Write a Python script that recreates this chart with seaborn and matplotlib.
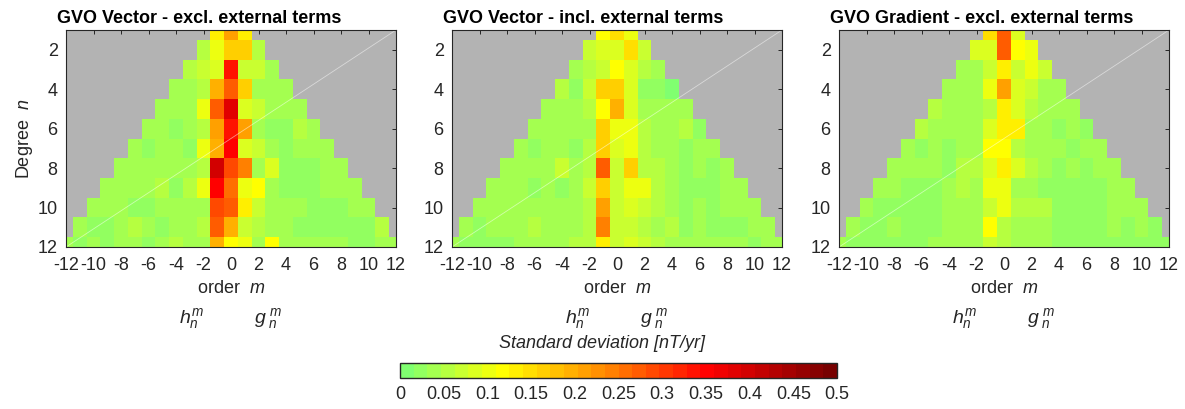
import numpy as np
import pandas as pd
import seaborn as sns
import matplotlib.pyplot as plt
from matplotlib.colors import LinearSegmentedColormap

sns.set_theme(style='white')
plt.rcParams['font.family'] = ['Liberation Sans', 'DejaVu Sans']
plt.rcParams['mathtext.fontset'] = 'custom'
plt.rcParams['mathtext.it'] = 'Liberation Sans:italic'
plt.rcParams['mathtext.rm'] = 'Liberation Sans'

degrees = list(range(1, 13))
orders = list(range(-12, 13))

# standard deviation [nT/yr], one list per degree n, orders m = -n..n
vec_excl = [
    [0.14, 0.21, 0.14],
    [0.05, 0.1, 0.165, 0.165, 0.05],
    [0.05, 0.065, 0.08, 0.34, 0.07, 0.07, 0.035],
    [0.035, 0.035, 0.05, 0.195, 0.28, 0.16, 0.04, 0.035, 0.035],
    [0.035, 0.035, 0.035, 0.095, 0.27, 0.375, 0.08, 0.065, 0.035, 0.035, 0.035],
    [0.035, 0.045, 0.03, 0.045, 0.05, 0.21, 0.33, 0.21, 0.035, 0.03, 0.02, 0.05, 0.035],
    [0.035, 0.02, 0.035, 0.035, 0.03, 0.095, 0.195, 0.35, 0.08, 0.065, 0.035, 0.03, 0.035, 0.035, 0.035],
    [0.035, 0.035, 0.035, 0.035, 0.035, 0.035, 0.05, 0.395, 0.29, 0.24, 0.04, 0.08, 0.03, 0.03, 0.03, 0.035, 0.035],
    [0.035, 0.035, 0.035, 0.035, 0.05, 0.03, 0.06, 0.1, 0.355, 0.26, 0.095, 0.115, 0.045, 0.02, 0.03, 0.03, 0.035, 0.035, 0.035],
    [0.035, 0.035, 0.035, 0.03, 0.02, 0.035, 0.035, 0.04, 0.045, 0.29, 0.27, 0.14, 0.07, 0.035, 0.035, 0.035, 0.03, 0.02, 0.03, 0.035, 0.035],
    [0.035, 0.03, 0.025, 0.035, 0.05, 0.035, 0.03, 0.035, 0.035, 0.05, 0.27, 0.195, 0.07, 0.05, 0.035, 0.035, 0.025, 0.025, 0.025, 0.025, 0.025, 0.03, 0.05],
    [0.035, 0.02, 0.035, 0.025, 0.035, 0.035, 0.03, 0.035, 0.06, 0.035, 0.035, 0.195, 0.115, 0.095, 0.045, 0.115, 0.035, 0.035, 0.035, 0.035, 0.035, 0.03, 0.02, 0.035, 0.035],
]

vec_incl = [
    [0.115, 0.145, 0.095],
    [0.065, 0.08, 0.08, 0.15, 0.07],
    [0.04, 0.05, 0.065, 0.115, 0.08, 0.05, 0.04],
    [0.06, 0.02, 0.065, 0.16, 0.16, 0.08, 0.025, 0.025, 0.015],
    [0.035, 0.035, 0.035, 0.05, 0.115, 0.2, 0.08, 0.035, 0.035, 0.035, 0.035],
    [0.035, 0.035, 0.035, 0.045, 0.045, 0.16, 0.1, 0.095, 0.05, 0.035, 0.035, 0.06, 0.02],
    [0.035, 0.02, 0.035, 0.035, 0.03, 0.06, 0.16, 0.08, 0.095, 0.05, 0.045, 0.035, 0.03, 0.035, 0.035],
    [0.035, 0.035, 0.035, 0.035, 0.07, 0.04, 0.05, 0.27, 0.065, 0.16, 0.06, 0.06, 0.035, 0.02, 0.035, 0.02, 0.035],
    [0.035, 0.035, 0.035, 0.02, 0.045, 0.03, 0.045, 0.07, 0.16, 0.07, 0.1, 0.1, 0.05, 0.035, 0.03, 0.03, 0.02, 0.035, 0.035],
    [0.035, 0.035, 0.035, 0.035, 0.035, 0.04, 0.045, 0.045, 0.055, 0.21, 0.065, 0.085, 0.065, 0.05, 0.035, 0.02, 0.035, 0.02, 0.035, 0.035, 0.035],
    [0.035, 0.02, 0.035, 0.035, 0.035, 0.05, 0.035, 0.045, 0.045, 0.06, 0.235, 0.065, 0.065, 0.05, 0.04, 0.05, 0.02, 0.035, 0.02, 0.03, 0.03, 0.035, 0.045],
    [0.035, 0.025, 0.025, 0.025, 0.03, 0.035, 0.035, 0.035, 0.04, 0.06, 0.055, 0.125, 0.065, 0.08, 0.065, 0.05, 0.035, 0.035, 0.035, 0.035, 0.035, 0.035, 0.025, 0.035, 0.035],
]

grad_excl = [
    [0.145, 0.27, 0.08],
    [0.08, 0.08, 0.27, 0.115, 0.095],
    [0.045, 0.045, 0.065, 0.125, 0.07, 0.1, 0.07],
    [0.035, 0.035, 0.045, 0.1, 0.21, 0.08, 0.075, 0.035, 0.035],
    [0.05, 0.035, 0.035, 0.035, 0.06, 0.125, 0.08, 0.05, 0.035, 0.035, 0.035],
    [0.05, 0.035, 0.035, 0.035, 0.045, 0.08, 0.125, 0.125, 0.035, 0.035, 0.02, 0.035, 0.03],
    [0.035, 0.02, 0.035, 0.02, 0.035, 0.04, 0.115, 0.115, 0.05, 0.035, 0.035, 0.035, 0.02, 0.035, 0.035],
    [0.035, 0.035, 0.035, 0.04, 0.02, 0.05, 0.05, 0.08, 0.125, 0.08, 0.05, 0.045, 0.03, 0.035, 0.02, 0.035, 0.035],
    [0.035, 0.035, 0.03, 0.03, 0.03, 0.035, 0.05, 0.045, 0.1, 0.1, 0.045, 0.035, 0.03, 0.03, 0.03, 0.03, 0.03, 0.035, 0.035],
    [0.035, 0.03, 0.025, 0.03, 0.03, 0.03, 0.035, 0.04, 0.045, 0.07, 0.1, 0.05, 0.06, 0.06, 0.03, 0.03, 0.03, 0.03, 0.035, 0.035, 0.035],
    [0.035, 0.03, 0.03, 0.035, 0.025, 0.03, 0.03, 0.035, 0.035, 0.035, 0.11, 0.06, 0.04, 0.035, 0.035, 0.03, 0.03, 0.03, 0.03, 0.035, 0.03, 0.035, 0.03],
    [0.035, 0.03, 0.03, 0.03, 0.03, 0.03, 0.03, 0.035, 0.035, 0.035, 0.04, 0.065, 0.05, 0.045, 0.04, 0.045, 0.03, 0.03, 0.03, 0.03, 0.03, 0.03, 0.03, 0.03, 0.03],
]

titles = ['GVO Vector - excl. external terms',
          'GVO Vector - incl. external terms',
          'GVO Gradient - excl. external terms']
cbar_ticks = [0, 0.05, 0.1, 0.15, 0.2, 0.25, 0.3, 0.35, 0.4, 0.45, 0.5]


def to_grid(rows):
    grid = np.full((len(degrees), len(orders)), np.nan)
    for n, vals in zip(degrees, rows):
        assert len(vals) == 2 * n + 1, (n, len(vals))
        grid[n - 1, 12 - n:12 + n + 1] = vals
    return pd.DataFrame(grid, index=degrees, columns=orders)


cmap = LinearSegmentedColormap.from_list(
    'gyr',
    [(0.0, '#80ff70'), (0.226, '#ffff00'), (0.484, '#ff8000'),
     (0.71, '#ff0000'), (1.0, '#780000')], N=32)

txt = '#262626'
fig = plt.figure(figsize=(11.85, 4.09), dpi=100)
lefts = [66 / 1185, 452 / 1185, 839 / 1185]
cax = fig.add_axes([400 / 1185, 1 - 378 / 409, 437 / 1185, 15 / 409])

for i, (rows, title) in enumerate(zip([vec_excl, vec_incl, grad_excl], titles)):
    ax = fig.add_axes([lefts[i], 1 - 247 / 409, 330 / 1185, 217 / 409])
    ax.set_facecolor('#b3b3b3')
    sns.heatmap(to_grid(rows), ax=ax, cmap=cmap, vmin=0, vmax=0.5,
                cbar=(i == 0), cbar_ax=cax if i == 0 else None,
                cbar_kws={'orientation': 'horizontal', 'ticks': cbar_ticks},
                xticklabels=False, yticklabels=False)
    ax.set_xlim(0.5, 24.5)
    ax.set_ylim(11.5, 0.5)
    ax.set_xticks([m + 12.5 for m in range(-12, 13, 2)])
    ax.set_xticklabels([str(m) for m in range(-12, 13, 2)])
    ax.set_yticks([n - 0.5 for n in range(2, 13, 2)])
    ax.set_yticklabels([str(n) for n in range(2, 13, 2)])
    ax.tick_params(direction='in', top=True, right=True, length=3, width=0.7,
                   colors=txt, labelsize=13)
    ax.tick_params(axis='x', pad=7)
    ax.tick_params(axis='y', pad=6)
    for s in ax.spines.values():
        s.set_visible(True)
        s.set_color(txt)
        s.set_linewidth(0.8)
    ax.plot([0, 1], [0, 1], transform=ax.transAxes, color='white', lw=0.6, alpha=0.5)
    ax.text(-0.027, 1.032, title, transform=ax.transAxes, ha='left', va='baseline',
            fontsize=13, fontweight='bold', color='black')
    ax.set_xlabel('')
    ax.set_ylabel('')
    ax.text(0.5, -0.19, 'order  $m$', transform=ax.transAxes, ha='center',
            va='center', fontsize=13, color=txt)
    ax.text(0.38, -0.328, r'$h_n^m$', transform=ax.transAxes, ha='center',
            va='center', fontsize=14, color=txt)
    ax.text(0.611, -0.328, r'$g_{\ n}^{\ m}$', transform=ax.transAxes, ha='center',
            va='center', fontsize=14, color=txt)
    if i == 0:
        ax.set_ylabel('Degree  $n$', fontsize=13, color=txt, labelpad=2)

cb = fig.axes[1].collections[0].colorbar
cb.outline.set_visible(True)
cb.outline.set_linewidth(1.0)
cb.outline.set_edgecolor(txt)
cax.tick_params(direction='in', length=4, width=0.7, colors=txt, labelsize=13,
                bottom=True, pad=6)
cax.set_xticklabels(['0', '0.05', '0.1', '0.15', '0.2', '0.25', '0.3', '0.35',
                     '0.4', '0.45', '0.5'])
fig.text(602 / 1185, 1 - 344 / 409, 'Standard deviation [nT/yr]', ha='center',
         va='center', fontsize=13, style='italic', color=txt)

fig.savefig('out.png', dpi=100)
